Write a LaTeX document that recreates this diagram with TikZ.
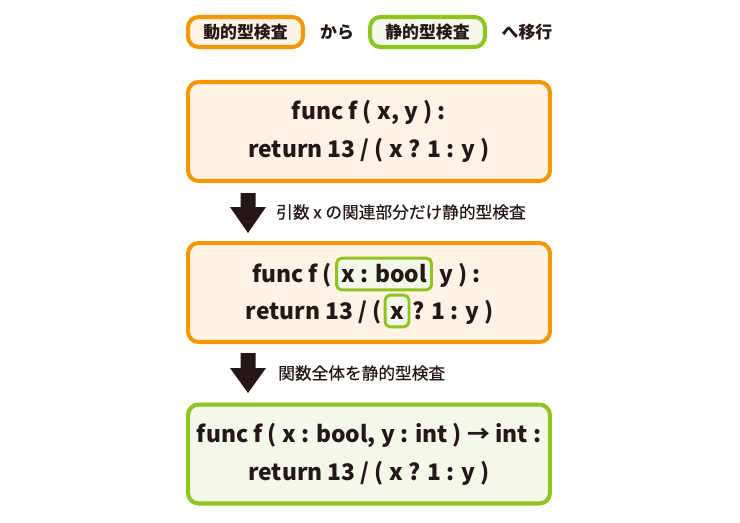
\documentclass[tikz,border=0pt]{standalone}
\usepackage{fontspec}
\setmainfont{Noto Sans CJK JP}
\newfontfamily\notefont{Noto Sans CJK JP}[FakeBold=0.5]
\usetikzlibrary{positioning}
\definecolor{dynorange}{RGB}{243,152,0}
\definecolor{dynfill}{RGB}{254,243,230}
\definecolor{statgreen}{RGB}{143,195,31}
\definecolor{statfill}{RGB}{244,248,234}
\definecolor{inkblack}{RGB}{35,24,21}

\tikzset{
  dynbox/.style={draw=dynorange, fill=dynfill, line width=2.3pt, rounded corners=6pt},
  statbox/.style={draw=statgreen, fill=statfill, line width=2.3pt, rounded corners=6pt},
  tagtext/.style={font=\bfseries\fontsize{9.6}{11}\selectfont, text=inkblack},
  notetext/.style={font=\notefont\fontsize{9.5}{11}\selectfont, text=inkblack, anchor=west},
  codetext/.style={font=\bfseries\fontsize{13}{21.5}\selectfont, text=inkblack, align=center},
  codepart/.style={font=\bfseries\fontsize{13}{21.5}\selectfont, text=inkblack, inner sep=0pt},
  hlbox/.style={draw=statgreen, fill=statfill, line width=1.7pt, rounded corners=3pt,
    inner xsep=2pt, inner ysep=0pt, text height=13.6pt, text depth=4.5pt},
}

\begin{document}
\begin{tikzpicture}[x=0.02cm, y=-0.02cm]
    \useasboundingbox (0,0) rectangle (740,522);

    % Title line
    \node[dynbox, tagtext, minimum width=2.3cm, minimum height=0.6cm] (dyn) at (245.5,32) {動的型検査};
    \node[tagtext] (from) at (337,32) {から};
    \node[statbox, tagtext, minimum width=2.3cm, minimum height=0.6cm] (stat) at (427.5,32) {静的型検査};
    \node[tagtext] (to) at (527,32) {へ移行};

    % Dynamic version
    \node[dynbox, codetext, minimum width=7.24cm, minimum height=1.98cm] (before) at (369,131.5)
        {func f ( x, y ) :\\return 13 / ( x ? 1 : y )};

    % Step 1
    \coordinate (step1) at (248,193);
    \fill[inkblack, shift={(step1)}] (-7.5,0) -- (7.5,0) -- (7.5,14) -- (18,14) -- (0,40)
        -- (-18,14) -- (-7.5,14) -- cycle;
    \node[notetext] (note1) at (270,212) {引数 x の関連部分だけ静的型検査};

    % Partly typed version
    \node[dynbox, minimum width=7.24cm, minimum height=1.98cm] (partial) at (369,292.5) {};
    \node[codepart, hlbox, minimum width=1.9cm, anchor=base] (xbool) at (384,282) {x : bool};
    \node[codepart, base left=1.5pt of xbool] (head2a) {func f (};
    \node[codepart, base right=3.5pt of xbool] (head2b) {y ) :};
    \node[codepart, hlbox, minimum width=0.48cm, anchor=base] (xonly) at (397,319) {x};
    \node[codepart, base left=0.8pt of xonly] (body2a) {return 13 / (};
    \node[codepart, base right=0.8pt of xonly] (body2b) {? 1 : y )};

    % Step 2
    \coordinate (step2) at (248,353);
    \fill[inkblack, shift={(step2)}] (-7.5,0) -- (7.5,0) -- (7.5,15) -- (18,15) -- (0,40)
        -- (-18,15) -- (-7.5,15) -- cycle;
    \node[notetext] (note2) at (272,373) {関数全体を静的型検査};

    % Static version
    \node[statbox, codetext, minimum width=7.24cm, minimum height=1.98cm] (after) at (369,454)
        {func f ( x : bool, y : int ) → int :\\return 13 / ( x ? 1 : y )};

\end{tikzpicture}
\end{document}
